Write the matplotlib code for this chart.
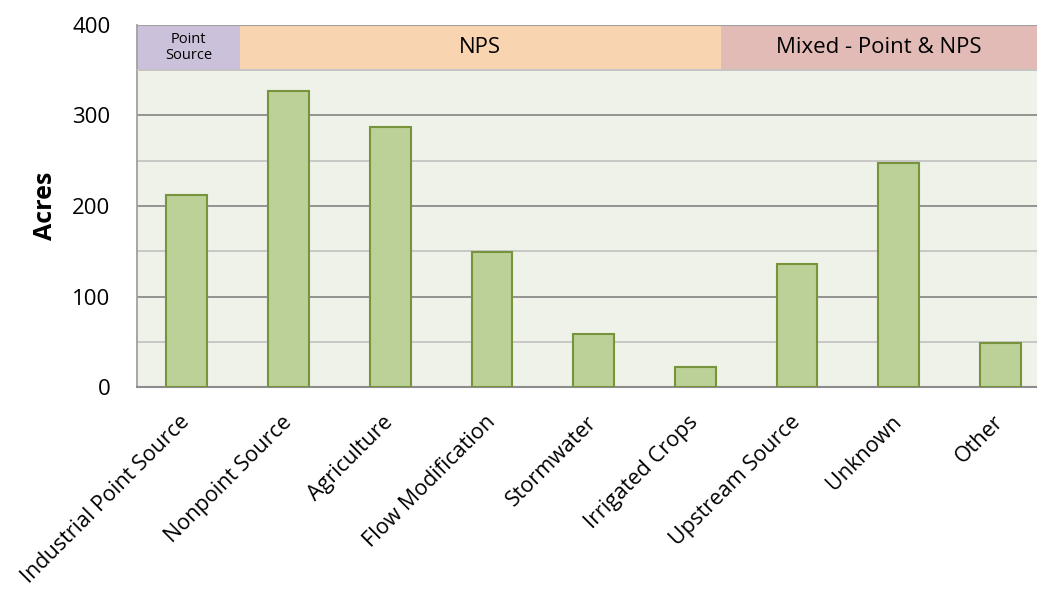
import numpy as np
import matplotlib.pyplot as plt
from matplotlib.ticker import MultipleLocator

# data
categories = ['Industrial Point Source', 'Nonpoint Source', 'Agriculture',
              'Flow Modification', 'Stormwater', 'Irrigated Crops',
              'Upstream Source', 'Unknown', 'Other']
acres = [212, 327, 287, 149, 59, 22, 136, 247, 49]

groups = ['Point\nSource', 'NPS', 'Mixed - Point & NPS']
group_start = [-0.49, 0.52, 5.25]
group_end = [0.52, 5.25, 8.36]
group_colors = ['#CCC1DA', '#F8D4B0', '#E2BAB6']
group_fontsize = [10.5, 16, 16]

plt.rcParams['font.family'] = ['Open Sans', 'DejaVu Sans']

fig = plt.figure(figsize=(10.37, 5.92), dpi=100)
ax = fig.add_axes([0.1321, 0.346, 0.8679, 0.612])
ax.set_facecolor('#EFF2E8')

x = np.arange(len(categories))
ax.bar(x, acres, width=0.4, color='#BBD197', edgecolor='#77933C',
       linewidth=1.5, zorder=3)

ax.set_xlim(-0.49, 8.36)
ax.set_ylim(0, 400)
ax.yaxis.set_major_locator(MultipleLocator(100))
ax.yaxis.set_minor_locator(MultipleLocator(50))
ax.grid(axis='y', which='major', color='#8C8C8C', linewidth=1.3, zorder=1)
ax.grid(axis='y', which='minor', color='#C4C4C4', linewidth=1.3, zorder=1)

# header bands across the top
for name, s, e, c, fs in zip(groups, group_start, group_end, group_colors, group_fontsize):
    ax.fill_between([s, e], 350, 400, color=c, zorder=2, linewidth=0)
    ax.text((s + e) / 2, 375, name, ha='center', va='center', fontsize=fs,
            zorder=4, linespacing=1.15)
ax.axhline(400, color='#A0A0A0', linewidth=1.5, zorder=4)
ax.axhline(350, color='#C4C4C4', linewidth=1.3, zorder=4)

ax.set_xticks(x)
ax.set_xticklabels(categories, rotation=45, ha='right', va='center',
                   rotation_mode='anchor', fontsize=15.5)
ax.tick_params(axis='x', length=0, pad=23)
ax.tick_params(axis='y', which='both', length=0, labelsize=16, pad=19)
ax.set_ylabel('Acres', fontsize=18, fontweight='bold', labelpad=10)

for side in ['top', 'right']:
    ax.spines[side].set_visible(False)
ax.spines['left'].set_color('#A0A0A0')
ax.spines['left'].set_linewidth(1.3)
ax.spines['bottom'].set_color('#8C8C8C')
ax.spines['bottom'].set_linewidth(1.5)

plt.savefig('out.png', dpi=100)
